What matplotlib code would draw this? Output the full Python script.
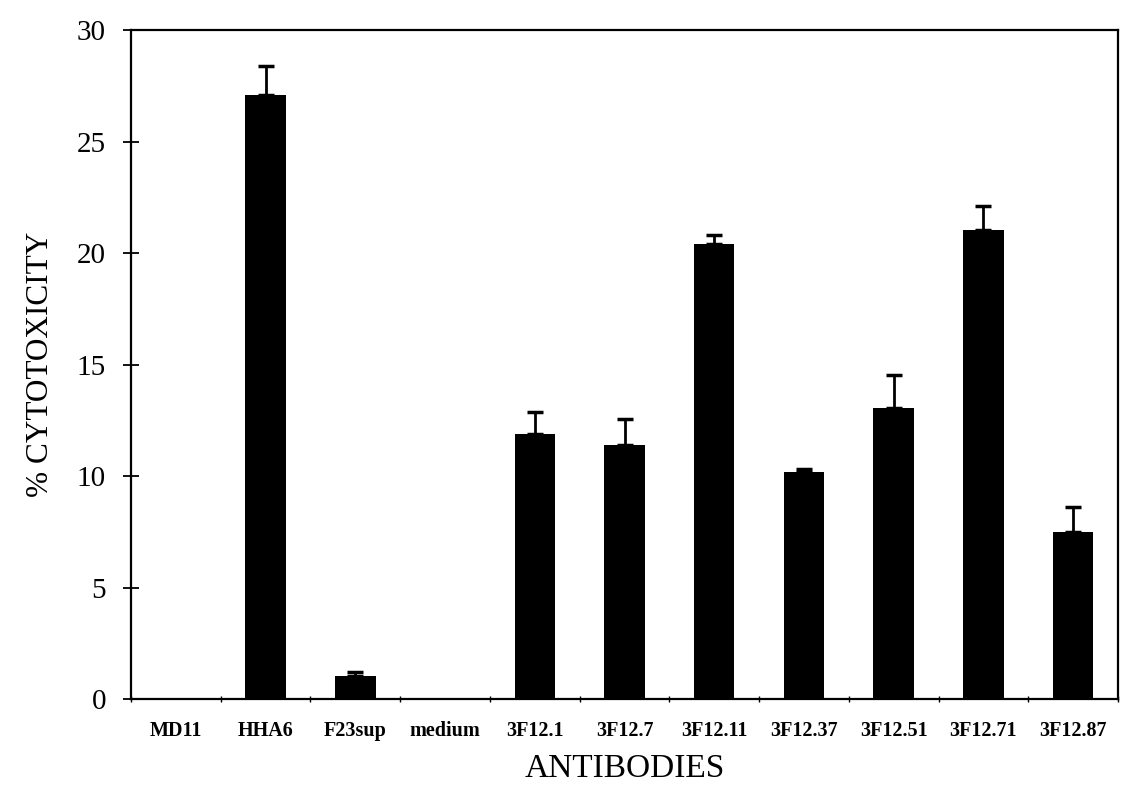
import numpy as np
import matplotlib
matplotlib.use("Agg")
import matplotlib.pyplot as plt

# Cytotoxicity per antibody (mean % and upper error)
antibodies = ["MD11", "HHA6", "F23sup", "medium", "3F12.1", "3F12.7",
              "3F12.11", "3F12.37", "3F12.51", "3F12.71", "3F12.87"]
cytotoxicity = [0.0, 27.1, 1.05, 0.0, 11.9, 11.4, 20.4, 10.2, 13.05, 21.05, 7.5]
errors = [0.0, 1.3, 0.15, 0.0, 0.95, 1.15, 0.4, 0.1, 1.5, 1.05, 1.1]
y_ticks = [0, 5, 10, 15, 20, 25, 30]

plt.rcParams["font.family"] = ["Liberation Serif", "DejaVu Serif"]

W, H = 1128, 796
fig = plt.figure(figsize=(W / 100, H / 100), dpi=100)
left, right, top, bottom = 131, 1118, 30, 699
ax = fig.add_axes([left / W, 1 - bottom / H, (right - left) / W, (bottom - top) / H])

x = np.arange(len(antibodies))
vals = np.array(cytotoxicity)
errs = np.array(errors)
ax.bar(x, vals, width=0.45, color="black", linewidth=0, zorder=2)

# error bars only where a measurement spread exists
has_err = errs > 0
ax.errorbar(x[has_err], vals[has_err],
            yerr=[np.zeros(has_err.sum()), errs[has_err]],
            fmt="none", ecolor="black", elinewidth=2.0, capsize=5.5,
            capthick=2.5, zorder=3)

ax.set_xlim(-0.5, len(antibodies) - 0.5)
ax.set_ylim(0, 30)
ax.set_yticks(y_ticks)
ax.set_yticklabels([str(v) for v in y_ticks], fontsize=21)
ax.tick_params(axis="y", direction="inout", length=12, width=1.3, pad=12)

ax.set_xticks(x)
ax.set_xticklabels(antibodies, fontsize=14.5, fontweight="bold")
ax.set_xticks(np.arange(-0.5, len(antibodies) + 0.5, 1), minor=True)
ax.tick_params(axis="x", which="major", length=0, pad=16)
ax.tick_params(axis="x", which="minor", direction="inout", length=5, width=1.0)

for s in ax.spines.values():
    s.set_linewidth(1.6)
    s.set_color("black")

ax.set_ylabel("% CYTOTOXICITY", fontsize=22.5, labelpad=16)
ax.set_xlabel("ANTIBODIES", fontsize=24, labelpad=9)

fig.savefig("out.png", dpi=100, facecolor="white")
